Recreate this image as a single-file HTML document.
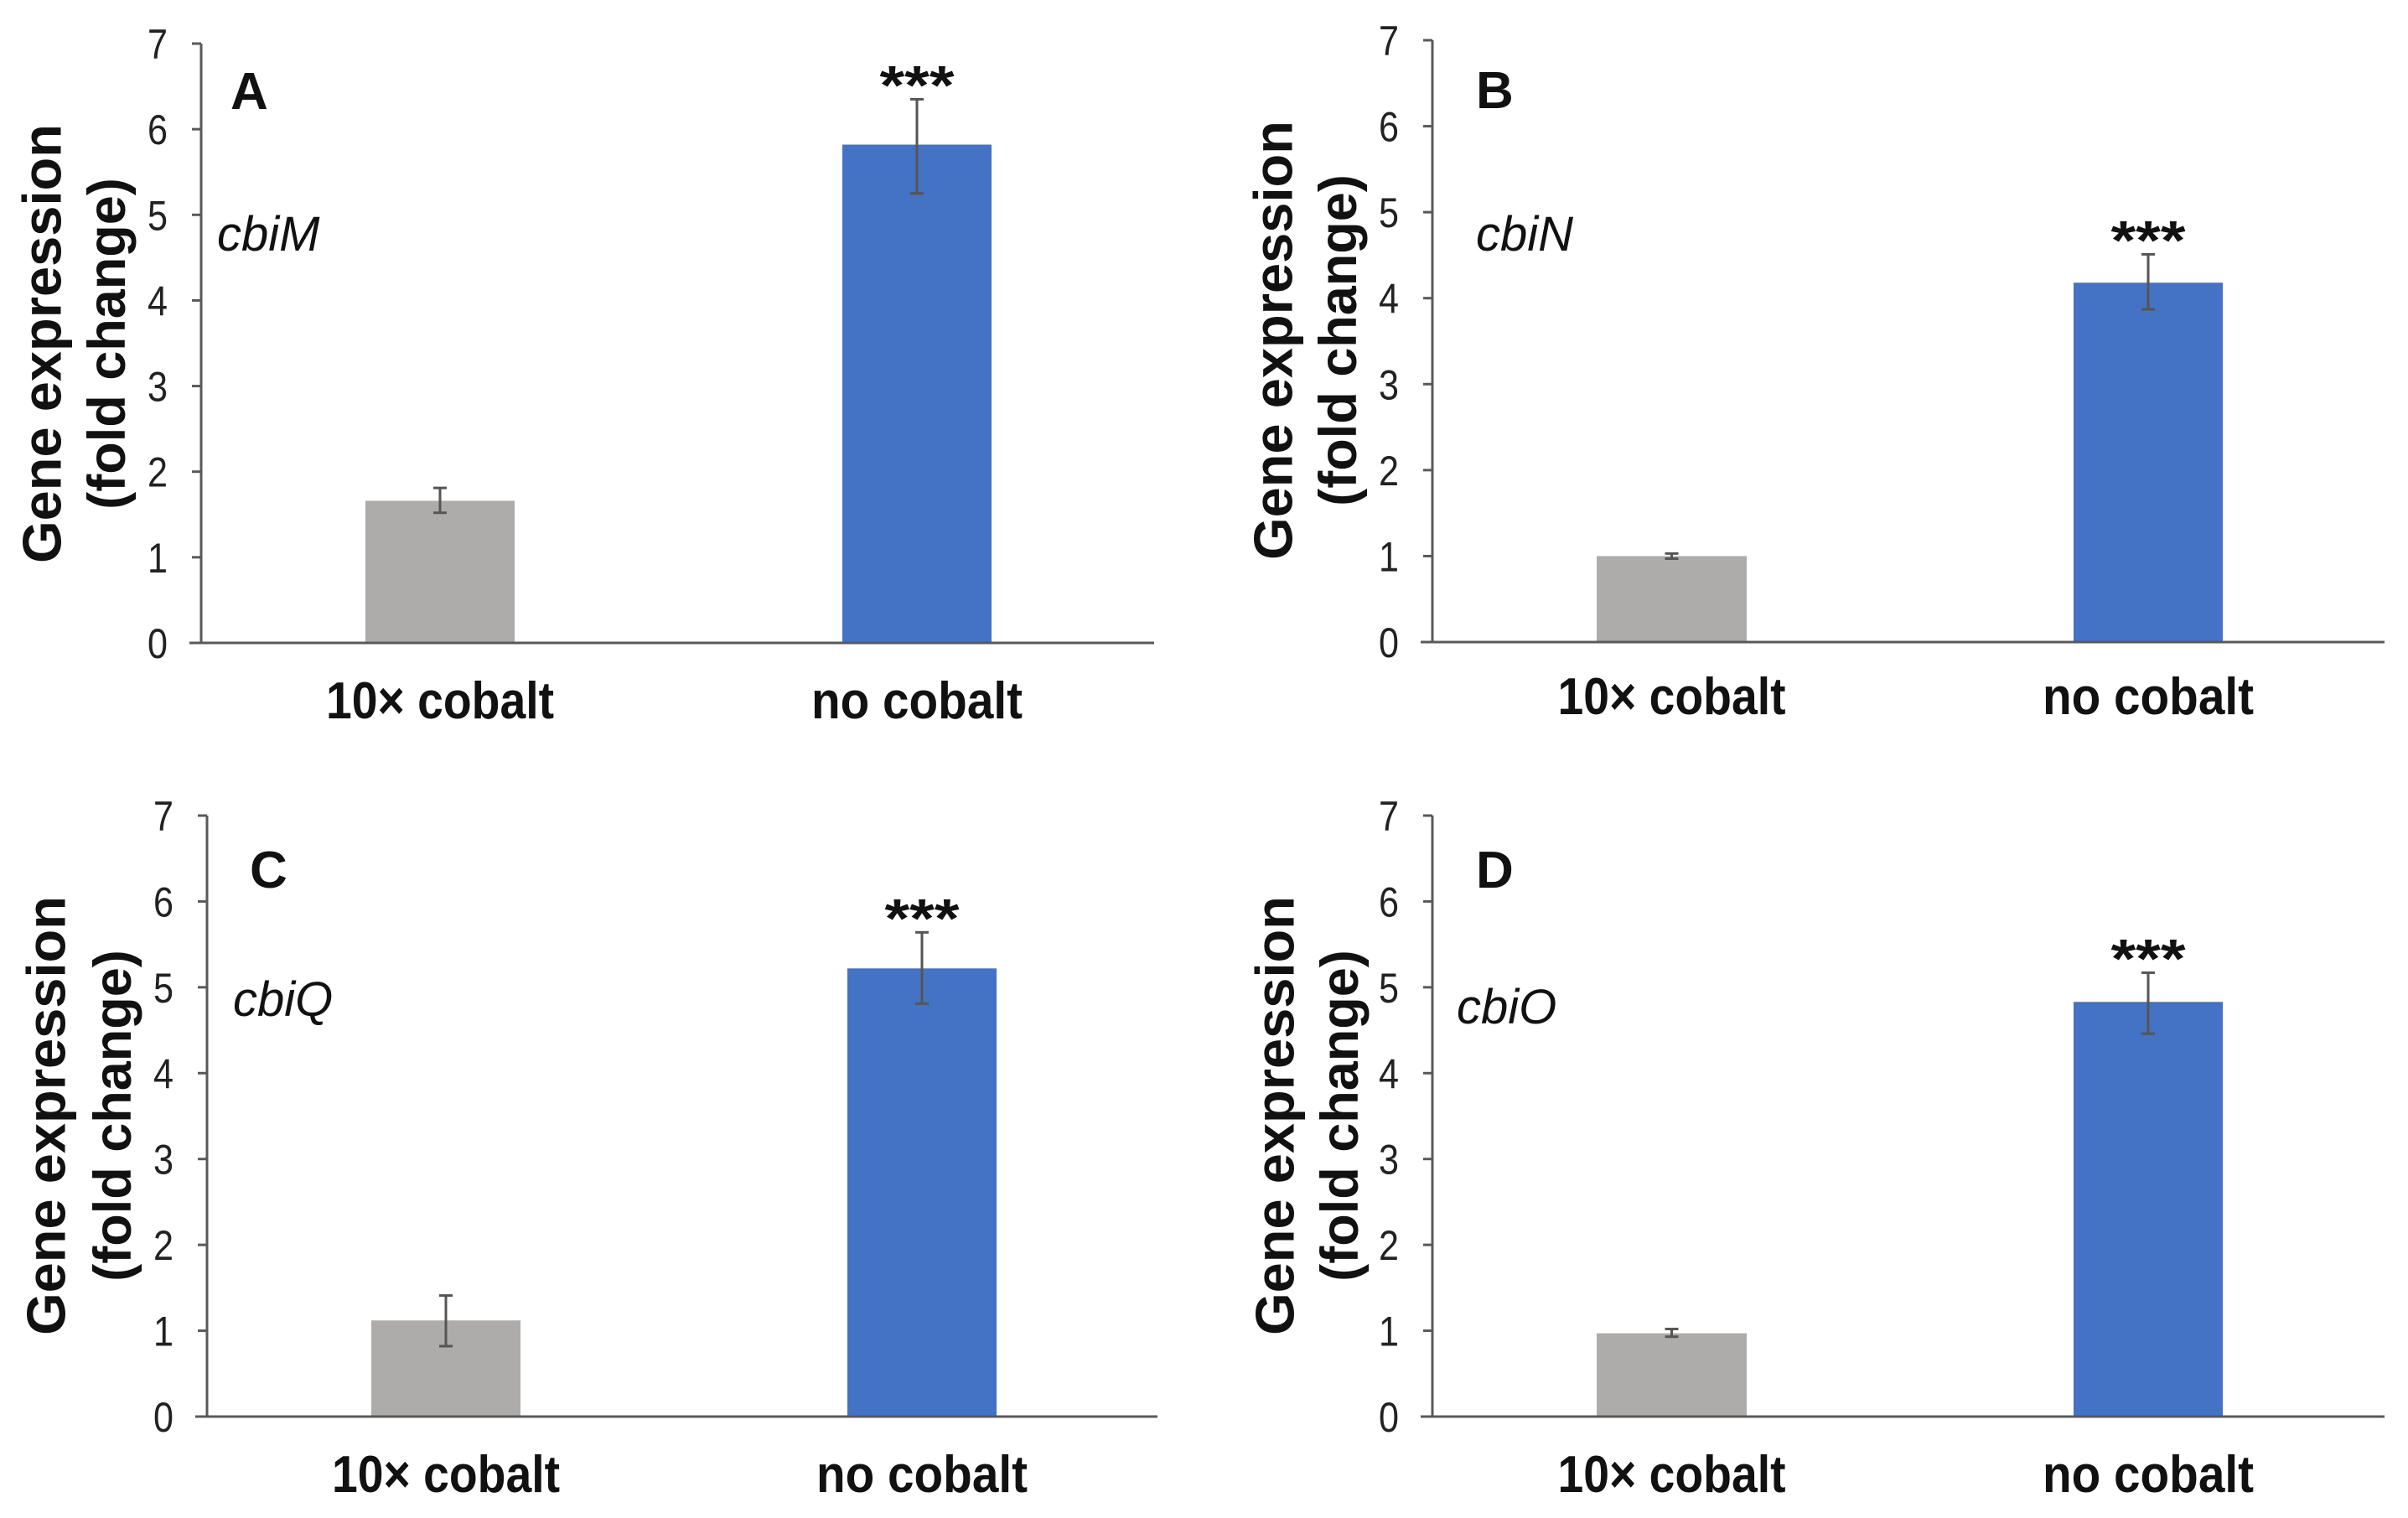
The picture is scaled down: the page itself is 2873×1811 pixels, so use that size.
<!DOCTYPE html>
<html><head><meta charset="utf-8"><style>
html,body{margin:0;padding:0;background:#fff;}
svg{display:block;}
text{font-family:"Liberation Sans",Arial,sans-serif;}
</style></head><body>
<svg id="chart" width="2873" height="1811" viewBox="0 0 2873 1811" xmlns="http://www.w3.org/2000/svg"></svg>
<script>
const categories = ["10× cobalt", "no cobalt"];
const panelLetters = ["A", "B", "C", "D"];
const geneNames = ["cbiM", "cbiN", "cbiQ", "cbiO"];
const meanA = [1.66, 5.82];
const errLowA = [1.52, 5.25];
const errHighA = [1.81, 6.35];
const meanB = [1.00, 4.18];
const errLowB = [0.97, 3.87];
const errHighB = [1.03, 4.51];
const meanC = [1.12, 5.22];
const errLowC = [0.82, 4.81];
const errHighC = [1.41, 5.64];
const meanD = [0.97, 4.83];
const errLowD = [0.93, 4.46];
const errHighD = [1.02, 5.17];
const yTicks = [0, 1, 2, 3, 4, 5, 6, 7];
const significance = ["", "***"];

const means = [meanA, meanB, meanC, meanD];
const lows = [errLowA, errLowB, errLowC, errLowD];
const highs = [errHighA, errHighB, errHighC, errHighD];

const layouts = [
  {ax:240, y7:52, y0:767, xend:1377, bars:[[436,614],[1005,1183]], lx:275, lb:130, gx:259, gb:299, t1:50, t2:128, tc:410, xb:857},
  {ax:1709, y7:48, y0:766, xend:2845, bars:[[1905,2084],[2474,2652]], lx:1761, lb:129, gx:1761, gb:299, t1:1519, t2:1597, tc:406, xb:852},
  {ax:247, y7:973, y0:1690, xend:1381, bars:[[443,621],[1011,1189]], lx:298, lb:1059, gx:278, gb:1212, t1:55, t2:135, tc:1331, xb:1780},
  {ax:1709, y7:973, y0:1690, xend:2845, bars:[[1905,2084],[2474,2652]], lx:1761, lb:1059, gx:1738, gb:1221, t1:1521, t2:1599, tc:1331, xb:1780}
];
const barColors = ["#AEABAB", "#4472C4"];
const NS = "http://www.w3.org/2000/svg";
const svg = document.getElementById("chart");
function mk(tag, attrs, parent) {
  const e = document.createElementNS(NS, tag);
  for (const k in attrs) e.setAttribute(k, attrs[k]);
  (parent || svg).appendChild(e);
  return e;
}
layouts.forEach((L, p) => {
  const g = mk("g", {});
  
  
  const yScale = v => L.y0 - (v / 7) * (L.y0 - L.y7);
  const yAxis = mk("line", {x1:L.ax, y1:L.y7, x2:L.ax, y2:L.y0, stroke:"#595959", "stroke-width":3}, g);
  
  
  yTicks.forEach(t => {
    const y = yScale(t);
    const tk = mk("line", {x1:L.ax-11, y1:y, x2:L.ax, y2:y, stroke:"#595959", "stroke-width":3}, g);
    
    
    const tl = mk("text", {x:L.ax-40, y:y+18, "text-anchor":"end", "font-size":50, fill:"#222", textLength:24, lengthAdjust:"spacingAndGlyphs"}, g);
    tl.textContent = String(t);
    
    
  });
  means[p].forEach((v, i) => {
    const [x1, x2] = L.bars[i];
    const r = mk("rect", {x:x1, y:yScale(v), width:x2-x1, height:L.y0-yScale(v), fill:barColors[i]}, g);
    
    
    const cx = (x1 + x2) / 2;
    const eg = mk("g", {stroke:"#555", "stroke-width":3}, g);
    
    
    const yl = yScale(lows[p][i]), yh = yScale(highs[p][i]);
    mk("line", {x1:cx, y1:yl, x2:cx, y2:yh}, eg);
    mk("line", {x1:cx-8, y1:yl, x2:cx+8, y2:yl}, eg);
    mk("line", {x1:cx-8, y1:yh, x2:cx+8, y2:yh}, eg);
    if (significance[i]) {
      const s = mk("text", {x:cx, y:yh+6, "text-anchor":"middle", "font-size":66, "font-weight":"bold", fill:"#111", textLength:89, lengthAdjust:"spacingAndGlyphs"}, g);
      s.textContent = significance[i];
      
      
    }
    const xl = mk("text", {x:cx, y:L.xb, "text-anchor":"middle", "font-size":62, "font-weight":"bold", fill:"#111", textLength:(i === 0 ? 272 : 252), lengthAdjust:"spacingAndGlyphs"}, g);
    xl.textContent = categories[i];
    
    
  });
  const xAxis = mk("line", {x1:L.ax-14, y1:L.y0, x2:L.xend, y2:L.y0, stroke:"#595959", "stroke-width":3}, g);
  
  
  const lt = mk("text", {x:L.lx, y:L.lb, "font-size":62, "font-weight":"bold", fill:"#111"}, g);
  lt.textContent = panelLetters[p];
  
  
  const gn = mk("text", {x:L.gx, y:L.gb, "font-size":58, "font-style":"italic", fill:"#111"}, g);
  gn.textContent = geneNames[p];
  
  
  const yt1 = mk("text", {x:0, y:0, "text-anchor":"middle", "dominant-baseline":"central", "font-size":65, "font-weight":"bold", fill:"#111", transform:`translate(${L.t1},${L.tc}) rotate(-90)`}, g);
  yt1.textContent = "Gene expression";
  
  
  const yt2 = mk("text", {x:0, y:0, "text-anchor":"middle", "dominant-baseline":"central", "font-size":63, "font-weight":"bold", fill:"#111", transform:`translate(${L.t2},${L.tc}) rotate(-90)`}, g);
  yt2.textContent = "(fold change)";
  
  
});
</script>
</body></html>
